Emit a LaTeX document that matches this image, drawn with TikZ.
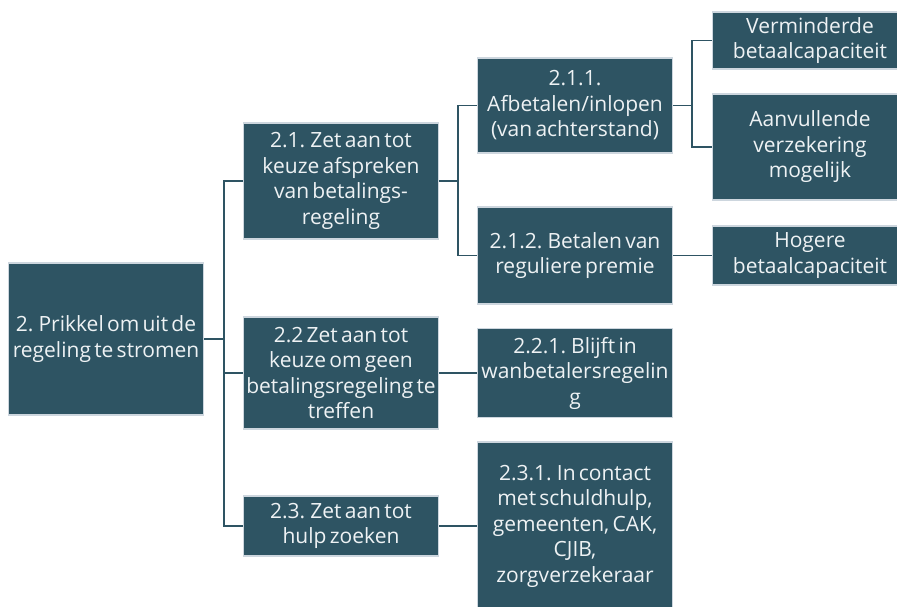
\documentclass[tikz,border=0pt]{standalone}
\usepackage{fontspec}
\setmainfont[WordSpace=0.6]{Open Sans}
\usepackage{tikz}
\usetikzlibrary{positioning}
\definecolor{boxteal}{RGB}{46,84,99}
\definecolor{boxedge}{RGB}{205,214,222}
\definecolor{boxtext}{RGB}{238,242,244}

\begin{document}
\begin{tikzpicture}[x=1pt, y=-1pt,
    box/.style={fill=boxteal, draw=boxedge, line width=1.2pt, text=boxtext,
      align=center, inner sep=1pt, minimum width=195pt,
      font=\fontsize{21}{25.5}\selectfont},
    link/.style={draw=boxteal, line width=1.8pt}]
      \useasboundingbox (0,0) rectangle (897,607);
      \clip (0,0) rectangle (897,607);
      % Root
      \node[box, minimum height=152pt] (root) at (106,339) {2. Prikkel om uit de\\regeling te stromen};
      % Second level
      \node[box, minimum height=116pt] (b21) at (341,181) {2.1. Zet aan tot\\keuze afspreken\\van betalings-\\regeling};
      \node[box, minimum height=112pt] (b22) at (341,373) {2.2 Zet aan tot\\keuze om geen\\betalingsregeling te\\treffen};
      \node[box, minimum height=60pt] (b23) at (341,526) {2.3. Zet aan tot\\hulp zoeken};
      % Third level
      \node[box, minimum height=95pt] (b211) at (575,105.5) {2.1.1.\\Afbetalen/inlopen\\(van achterstand)};
      \node[box, minimum height=97pt] (b212) at (575,255.5) {2.1.2. Betalen van\\reguliere premie};
      \node[box, minimum height=89pt] (b221) at (575,373) {2.2.1. Blijft in\\wanbetalersregelin\\g};
      \node[box, minimum height=168pt] (b231) at (575,526) {2.3.1. In contact\\met schuldhulp,\\gemeenten, CAK,\\CJIB,\\zorgverzekeraar};
      % Fourth level
      \node[box, minimum height=57pt] (minder) at (810,40.5) {Verminderde\\betaalcapaciteit};
      \node[box, minimum height=106pt] (aanv) at (810,147) {Aanvullende\\verzekering\\mogelijk};
      \node[box, minimum height=59pt] (hoger) at (810,255.5) {Hogere\\betaalcapaciteit};
      % Connectors
      \foreach \c in {b21,b22,b23}{
        \draw[link] (root.east) -- ++(20,0) |- (\c.west);
      }
      \foreach \c in {b211,b212}{
        \draw[link] (b21.east) -- ++(19,0) |- (\c.west);
      }
      \foreach \c in {minder,aanv}{
        \draw[link] (b211.east) -- ++(19,0) |- (\c.west);
      }
      \draw[link] (b212.east) -- (hoger.west);
      \draw[link] (b22.east) -- (b221.west);
      \draw[link] (b23.east) -- (b231.west);
    \end{tikzpicture}
\end{document}
